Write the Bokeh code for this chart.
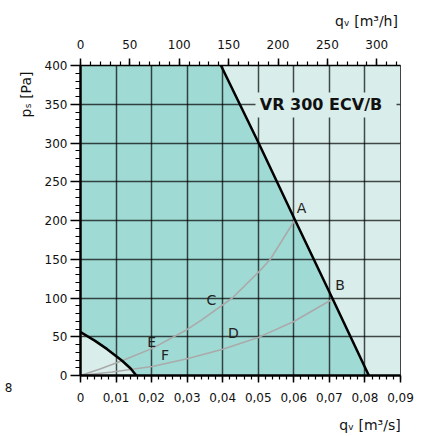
from bokeh.plotting import figure
from bokeh.models import Range1d, LinearAxis, FixedTicker, Label
from bokeh.embed import file_html
from bokeh.resources import INLINE

# --- data -------------------------------------------------------------
# airflow qv [m3/s] and static pressure ps [Pa]
q_ticks = [0.0, 0.01, 0.02, 0.03, 0.04, 0.05, 0.06, 0.07, 0.08, 0.09]
q_tick_labels = ["0", "0,01", "0,02", "0,03", "0,04", "0,05", "0,06", "0,07", "0,08", "0,09"]
p_ticks = [0, 50, 100, 150, 200, 250, 300, 350, 400]
h_ticks = [0, 50, 100, 150, 200, 250, 300]

# maximum fan curve (upper boundary of working range)
q_max = [0.0395, 0.0501, 0.0604, 0.0708, 0.0811]
p_max = [400, 300, 200, 100, 0]

# minimum fan curve (lower boundary of working range)
q_min = [0.0, 0.0040, 0.0075, 0.0117, 0.0141, 0.0157]
p_min = [56, 45, 34, 19, 9, 0]

# system curve through A, C, E
q_sys1 = [0.0, 0.0055, 0.0117, 0.0202, 0.0295, 0.0342, 0.0427, 0.0502, 0.0534, 0.0602]
p_sys1 = [0, 8.5, 19, 35, 58, 72, 100, 134, 150, 200]

# system curve through B, D, F
q_sys2 = [0.0, 0.0089, 0.0202, 0.0300, 0.0400, 0.0502, 0.0600, 0.0707]
p_sys2 = [0, 4.5, 11.6, 21.5, 34, 49.5, 69.7, 98]

# operating point labels
pt_names = ["A", "B", "C", "D", "E", "F"]
pt_q = [0.0622, 0.0730, 0.0368, 0.0430, 0.0200, 0.0238]
pt_p = [215.5, 117.4, 96.8, 54.2, 42.6, 26.5]

title_text = "VR 300 ECV/B"
x_title = "qᵥ [m³/s]"
x2_title = "qᵥ [m³/h]"
y_title = "pₛ [Pa]"
margin_note = "8"

# --- styling ----------------------------------------------------------
DARK = "#a0dad4"
LIGHT = "#d9eeea"
FONT = "DejaVu Sans"
Q_MAX, P_MAX = 0.09, 400
EN = "\u2002"  # en space: leading pad pushes a centred axis title towards the axis end

W, H = 428, 436
L, R, T, B = 80, 400, 65, 375


def dx(px):
    return (px - L) * Q_MAX / (R - L)


def dy(py):
    return (B - py) * P_MAX / (B - T)


p = figure(width=W, height=H, x_range=Range1d(0, Q_MAX), y_range=Range1d(0, P_MAX),
           output_backend="svg", toolbar_location=None,
           min_border_left=L, min_border_right=W - R,
           min_border_top=T, min_border_bottom=H - B)
p.background_fill_color = LIGHT
p.border_fill_color = "white"
p.outline_line_color = "#444444"
p.outline_line_width = 1

# working range (filled area between min and max fan curves)
poly_q = list(reversed(q_min)) + [0.0] + q_max + [q_min[-1]]
poly_p = list(reversed(p_min)) + [P_MAX] + p_max + [p_min[-1]]
p.patch(poly_q, poly_p, fill_color=DARK, line_color=None, level="image")

# grid
for g, ticks in ((p.xgrid, q_ticks), (p.ygrid, p_ticks)):
    g.ticker = FixedTicker(ticks=ticks)
    g.grid_line_color = "black"
    g.grid_line_alpha = 0.7
    g.grid_line_width = 1.5

# system curves
p.line(q_sys1, p_sys1, line_color="#aaaaaa", line_width=1.6)
p.line(q_sys2, p_sys2, line_color="#aaaaaa", line_width=1.6)

# fan curves
p.line(q_max, p_max, line_color="black", line_width=2.5)
p.line(q_min, p_min, line_color="black", line_width=2.5)

for name, q, pr in zip(pt_names, pt_q, pt_p):
    p.add_layout(Label(x=q, y=pr, text=name, text_font=FONT, text_font_size="14px",
                       text_color="#222222", text_align="center", text_baseline="middle"))

# model name with a light backing box
tq, tp = dx(320.5), dy(104)
p.quad(left=[dx(255)], right=[dx(396)], top=[dy(92)], bottom=[dy(117)],
       fill_color=LIGHT, line_color=None)
p.add_layout(Label(x=tq, y=tp, text=title_text, text_font=FONT, text_font_size="16px",
                   text_font_style="bold", text_color="#111111",
                   text_align="center", text_baseline="middle"))

# axes
xa = p.xaxis[0]
xa.ticker = FixedTicker(ticks=q_ticks, minor_ticks=[i * 0.002 for i in range(46)])
xa.major_label_overrides = {t: s for t, s in zip(q_ticks, q_tick_labels)}
xa.axis_label = EN * 37 + x_title
ya = p.yaxis[0]
ya.ticker = FixedTicker(ticks=p_ticks, minor_ticks=list(range(0, 401, 10)))
ya.axis_label = EN * 36 + y_title

p.extra_x_ranges = {"h": Range1d(0, Q_MAX * 3600)}
top = LinearAxis(x_range_name="h", axis_label=EN * 36 + x2_title,
                 ticker=FixedTicker(ticks=h_ticks, minor_ticks=list(range(0, 330, 10))))
p.add_layout(top, "above")

for ax, lw, mj, mn, so, lso in ((xa, 2.5, 7, 4, 10, 12), (ya, 2.5, 10, 5, 3, 8),
                                (top, 1.5, 7, 4, 10, 8)):
    ax.axis_line_width = lw
    ax.axis_line_color = "black"
    ax.major_tick_in = 0
    ax.major_tick_out = mj
    ax.minor_tick_in = 0
    ax.minor_tick_out = mn
    ax.major_tick_line_width = 1.5
    ax.minor_tick_line_width = 1.2
    ax.major_label_standoff = so
    ax.major_label_text_font = FONT
    ax.major_label_text_font_size = "12px"
    ax.major_label_text_color = "#111111"
    ax.axis_label_text_font = FONT
    ax.axis_label_text_font_size = "14px"
    ax.axis_label_text_font_style = "normal"
    ax.axis_label_text_color = "#111111"
    ax.axis_label_standoff = lso
    ax.axis_label_align = "center"

# bare outer axis on the left that only carries the margin note
p.extra_y_ranges = {"note": Range1d(0, P_MAX)}
note = LinearAxis(y_range_name="note", ticker=FixedTicker(ticks=[]),
                  axis_label="\n" + margin_note, axis_label_orientation="horizontal",
                  axis_label_align="start", axis_label_standoff=2,
                  axis_line_color=None, major_tick_line_color=None,
                  minor_tick_line_color=None, major_label_text_font_size="0px")
note.axis_label_text_font = FONT
note.axis_label_text_font_size = "12px"
note.axis_label_text_font_style = "normal"
note.axis_label_text_color = "#111111"
note.axis_label_text_baseline = "top"
note.axis_label_text_line_height = 1.8
p.add_layout(note, "left")

open("out.html", "w").write(file_html(p, INLINE))
